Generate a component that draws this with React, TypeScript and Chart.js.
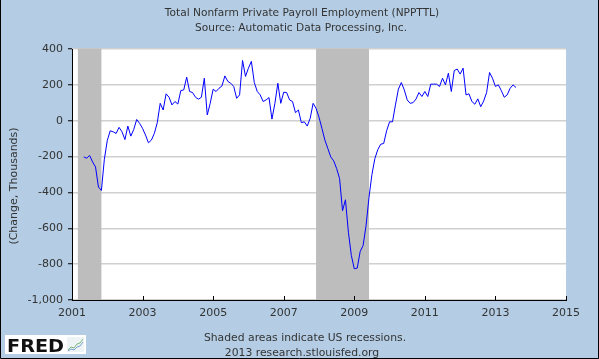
import React, { useEffect, useRef } from 'react';
import { Chart, registerables } from 'chart.js';

Chart.register(...registerables);

// ---- Data (monthly change, thousands) ----
const startYear = 2001;
const startMonthIndex = 4; // first observation: May 2001 (0 = January)
const employmentChange: number[] = [
  -202, -209, -194, -230, -258, -370, -389, -215,
  -110, -56, -62, -71, -37, -62, -105, -30, -86, -49, 7, -15,
  -43, -80, -123, -108, -71, -11, 97, 60, 150, 131, 88, 107,
  93, 168, 172, 243, 163, 157, 131, 120, 131, 237, 32, 97,
  176, 163, 181, 194, 250, 219, 209, 191, 125, 144, 336, 247,
  293, 331, 213, 163, 144, 107, 116, 129, 9, 97, 209, 97,
  159, 157, 116, 107, 45, 60, -11, -6, -30, 13, 97, 69,
  19, -43, -108, -155, -202, -224, -267, -323, -502, -441, -622, -752,
  -826, -822, -730, -696, -585, -428, -300, -211, -161, -131, -127, -56,
  -6, -6, 88, 176, 213, 172, 116, 97, 101, 121, 157, 135,
  163, 135, 204, 204, 204, 191, 237, 200, 265, 163, 280, 288,
  260, 293, 144, 150, 107, 92, 122, 78, 110, 157, 269, 237,
  191, 200, 168, 131, 144, 181, 200, 185,
];
const xTickYears = [2001, 2003, 2005, 2007, 2009, 2011, 2013, 2015];
const yTickValues = [-1000, -800, -600, -400, -200, 0, 200, 400];
const recessionStarts = ['2001-03', '2007-12'];
const recessionEnds = ['2001-11', '2009-06'];

const titleLines = [
  'Total Nonfarm Private Payroll Employment (NPPTTL)',
  'Source: Automatic Data Processing, Inc.',
];
const yAxisTitle = '(Change, Thousands)';
const noteLines = ['Shaded areas indicate US recessions.', '2013 research.stlouisfed.org'];

const FONT = '"DejaVu Sans", "Open Sans", sans-serif';
const TEXT = '#333333';
const BG = '#b4cde4';

const monthToYear = (s: string) => {
  const [y, m] = s.split('-').map(Number);
  return y + (m - 1) / 12;
};

const points = employmentChange.map((v, i) => ({
  x: startYear + (startMonthIndex + i) / 12,
  y: v,
}));

const backgroundPlugin = {
  id: 'fredBackground',
  beforeDraw(chart: any) {
    const { ctx, width, height, chartArea } = chart;
    ctx.save();
    ctx.fillStyle = BG;
    ctx.fillRect(0, 0, width, height);
    ctx.fillStyle = '#ffffff';
    ctx.fillRect(chartArea.left, chartArea.top, chartArea.right - chartArea.left, chartArea.bottom - chartArea.top);
    ctx.restore();
  },
};

const recessionPlugin = {
  id: 'recessions',
  beforeDatasetsDraw(chart: any) {
    const { ctx, chartArea, scales } = chart;
    ctx.save();
    ctx.fillStyle = '#bdbdbd';
    recessionStarts.forEach((s, i) => {
      const x0 = scales.x.getPixelForValue(monthToYear(s));
      const x1 = scales.x.getPixelForValue(monthToYear(recessionEnds[i]));
      ctx.fillRect(x0, chartArea.top - 0.5, x1 - x0, chartArea.bottom - chartArea.top + 0.5);
    });
    ctx.restore();
  },
};

const decorPlugin = {
  id: 'decor',
  afterDraw(chart: any) {
    const { ctx, chartArea, scales, width, height } = chart;
    ctx.save();
    // inward x ticks
    ctx.strokeStyle = '#000';
    ctx.lineWidth = 1;
    xTickYears.forEach((yr) => {
      const x = Math.round(scales.x.getPixelForValue(yr)) + 0.5;
      ctx.beginPath();
      ctx.moveTo(x, chartArea.bottom);
      ctx.lineTo(x, chartArea.bottom - 4);
      ctx.stroke();
    });

    // titles
    ctx.fillStyle = TEXT;
    ctx.textAlign = 'center';
    ctx.textBaseline = 'middle';
    ctx.font = `10.6px ${FONT}`;
    ctx.fillText(titleLines[0], 302, 13);
    ctx.fillText(titleLines[1], 301, 28);
    ctx.font = `10.8px ${FONT}`;
    ctx.fillText(noteLines[0], 305, 338);
    ctx.fillText(noteLines[1], 302, 353);

    // y-axis title
    ctx.font = `11px ${FONT}`;
    ctx.save();
    ctx.translate(14, 186);
    ctx.rotate(-Math.PI / 2);
    ctx.fillText(yAxisTitle, 0, 0);
    ctx.restore();

    // FRED logo
    ctx.fillStyle = '#ffffff';
    ctx.fillRect(5, 335, 81, 19);
    ctx.fillStyle = '#111111';
    ctx.font = `bold 18px ${FONT}`;
    ctx.textAlign = 'left';
    ctx.textBaseline = 'alphabetic';
    const w = ctx.measureText('FRED').width;
    ctx.save();
    ctx.translate(7, 352);
    ctx.scale(57 / w, 1);
    ctx.fillText('FRED', 0, 0);
    ctx.restore();
    // small chart icon
    ctx.fillStyle = '#eef3f6';
    ctx.fillRect(67, 337, 17, 15);
    ctx.lineWidth = 1;
    ctx.strokeStyle = '#7fb77f';
    ctx.beginPath();
    ctx.moveTo(68, 350); ctx.lineTo(71, 347); ctx.lineTo(74, 348); ctx.lineTo(77, 344); ctx.lineTo(80, 343); ctx.lineTo(83, 339);
    ctx.stroke();
    ctx.strokeStyle = '#7ea2cf';
    ctx.beginPath();
    ctx.moveTo(68, 351); ctx.lineTo(71, 349); ctx.lineTo(74, 350); ctx.lineTo(77, 347); ctx.lineTo(80, 346); ctx.lineTo(83, 342);
    ctx.stroke();

    // outer border
    ctx.strokeStyle = '#000';
    ctx.lineWidth = 1;
    ctx.beginPath();
    ctx.moveTo(0.5, 0);
    ctx.lineTo(0.5, height - 0.5);
    ctx.lineTo(width - 0.5, height - 0.5);
    ctx.lineTo(width - 0.5, 0);
    ctx.stroke();
    ctx.restore();
  },
};

export default function App() {
  const canvasRef = useRef<HTMLCanvasElement | null>(null);

  useEffect(() => {
    const canvas = canvasRef.current;
    if (!canvas) return;
    const chart = new Chart(canvas, {
      type: 'line',
      data: {
        datasets: [
          {
            data: points,
            borderColor: '#0000ff',
            borderWidth: 1,
            pointRadius: 0,
            fill: false,
            tension: 0,
          },
        ],
      },
      options: {
        responsive: false,
        animation: false,
        devicePixelRatio: 1,
        parsing: false,
        layout: { padding: { left: 0, right: 33, top: 49, bottom: 0 } },
        plugins: {
          legend: { display: false },
          tooltip: { enabled: false },
          title: { display: false },
        },
        scales: {
          x: {
            type: 'linear',
            min: 2001,
            max: 2015,
            afterBuildTicks: (s: any) => {
              s.ticks = xTickYears.map((v) => ({ value: v }));
            },
            afterFit: (s: any) => {
              s.height = 59;
            },
            ticks: {
              callback: (v: any) => String(v),
              color: TEXT,
              font: { family: FONT, size: 11 },
              padding: 7,
              maxRotation: 0,
              autoSkip: false,
            },
            grid: { display: false, drawTicks: false },
            border: { display: true, color: '#000', width: 1 },
          },
          y: {
            type: 'linear',
            min: -1000,
            max: 400,
            afterBuildTicks: (s: any) => {
              s.ticks = yTickValues.map((v) => ({ value: v }));
            },
            afterFit: (s: any) => {
              s.width = 72;
            },
            ticks: {
              callback: (v: any) => Number(v).toLocaleString('en-US'),
              color: TEXT,
              font: { family: FONT, size: 11 },
              padding: 5,
            },
            grid: {
              color: '#d0d0d0',
              lineWidth: 1.5,
              tickColor: '#000',
              tickLength: 4,
              tickWidth: 1,
            },
            border: { display: true, color: '#000', width: 1 },
          },
        },
      },
      plugins: [backgroundPlugin, recessionPlugin, decorPlugin],
    } as any);
    return () => chart.destroy();
  }, []);

  return (
    <div style={{ position: 'fixed', left: 0, top: 0, width: 599, height: 359 }}>
      <canvas ref={canvasRef} width={599} height={359} style={{ display: 'block', width: 599, height: 359 }} />
    </div>
  );
}
